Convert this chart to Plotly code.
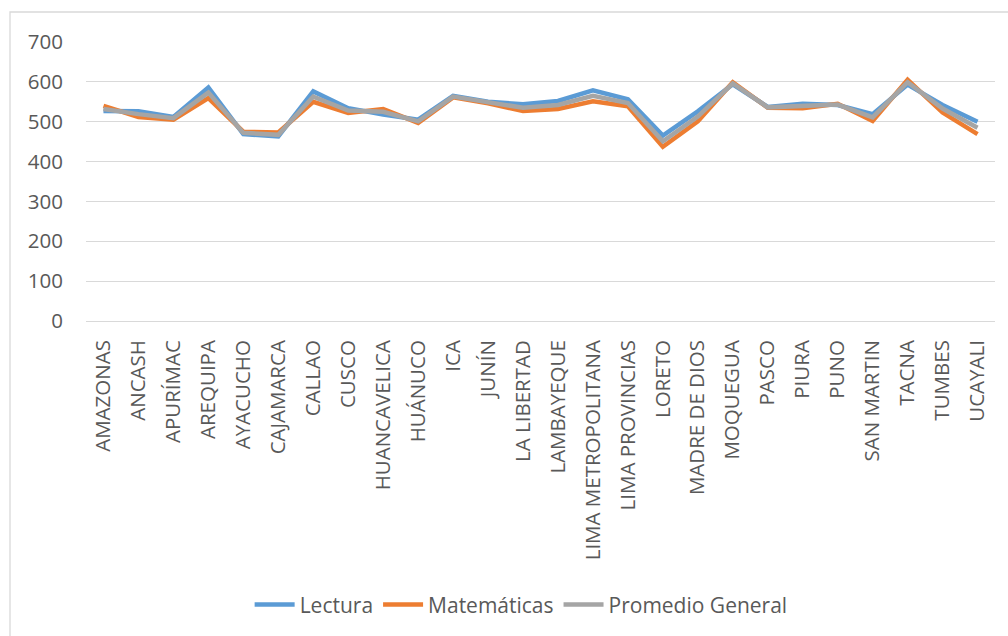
import plotly.graph_objects as go

regiones = ["AMAZONAS", "ANCASH", "APURÍMAC", "AREQUIPA", "AYACUCHO", "CAJAMARCA",
            "CALLAO", "CUSCO", "HUANCAVELICA", "HUÁNUCO", "ICA", "JUNÍN",
            "LA LIBERTAD", "LAMBAYEQUE", "LIMA METROPOLITANA", "LIMA PROVINCIAS",
            "LORETO", "MADRE DE DIOS", "MOQUEGUA", "PASCO", "PIURA", "PUNO",
            "SAN MARTIN", "TACNA", "TUMBES", "UCAYALI"]

lectura = [527, 526, 512, 586, 469, 463, 576, 534, 518, 505, 565, 550,
           544, 552, 579, 556, 465, 526, 594, 537, 545, 542, 519, 593, 542, 500]
matematicas = [540, 512, 505, 559, 475, 473, 550, 522, 532, 497, 561, 546,
               527, 532, 551, 539, 437, 501, 599, 535, 534, 545, 502, 605, 523, 469]
promedio = [532, 519, 509, 573, 472, 467, 563, 528, 525, 501, 563, 548,
            535, 542, 565, 547, 451, 513, 596, 536, 539, 543, 511, 599, 533, 485]

y_ticks = [0, 100, 200, 300, 400, 500, 600, 700]

FONT = "Open Sans"
TXT = "#595959"
GRID = "#D9D9D9"

fig = go.Figure()
fig.add_trace(go.Scatter(x=regiones, y=lectura, name="Lectura", mode="lines",
                         line=dict(color="#5B9BD5", width=4.5)))
fig.add_trace(go.Scatter(x=regiones, y=matematicas, name="Matemáticas", mode="lines",
                         line=dict(color="#ED7D31", width=4.5)))
fig.add_trace(go.Scatter(x=regiones, y=promedio, name="Promedio General", mode="lines",
                         line=dict(color="#A5A5A5", width=4.5)))

L, R, T, B = 86, 13, 42, 315
W, H = 1008, 636
pw, ph = W - L - R, H - T - B

fig.update_layout(
    width=W, height=H,
    margin=dict(l=L, r=R, t=T, b=B, autoexpand=False),
    paper_bgcolor="white", plot_bgcolor="white",
    font=dict(family=FONT, size=20.5, color=TXT),
    showlegend=True,
    legend=dict(orientation="h", xref="container", yref="container",
                x=0.517, y=0.049, xanchor="center", yanchor="middle",
                font=dict(family=FONT, size=21, color=TXT),
                itemwidth=40, tracegroupgap=0, bgcolor="rgba(0,0,0,0)"),
    xaxis=dict(type="category", range=[-0.5, len(regiones) - 0.5], tickangle=-90,
               showgrid=False, zeroline=False, automargin=False,
               showline=False, ticks="", ticklabelstandoff=14,
               tickfont=dict(family=FONT, size=20.5, color=TXT)),
    yaxis=dict(range=[0, 700], tickvals=y_ticks, showgrid=True, gridcolor=GRID,
               gridwidth=1.3, zeroline=True, zerolinecolor=GRID, zerolinewidth=1.3,
               showline=False, ticks="", ticklabelstandoff=22, automargin=False,
               tickfont=dict(family=FONT, size=20.5, color=TXT)),
    shapes=[dict(type="rect", xref="paper", yref="paper",
                 x0=(10 - L) / pw, x1=(W + 5 - L) / pw,
                 y0=(T + ph - (H + 5)) / ph, y1=(T + ph - 12) / ph,
                 line=dict(color=GRID, width=1.3), fillcolor="rgba(0,0,0,0)",
                 layer="below")],
)

fig.write_html("out.html")
